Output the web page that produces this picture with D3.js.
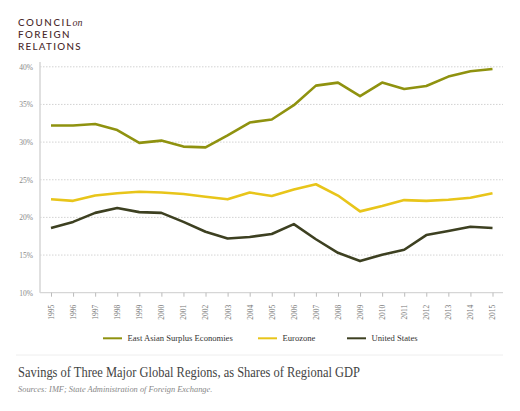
<!DOCTYPE html>
<html>
<head>
<meta charset="utf-8">
<script src="https://cdn.jsdelivr.net/npm/d3@7"></script>
<style>
  html, body { margin: 0; padding: 0; background: #fff; }
  svg { display: block; }
</style>
</head>
<body>
<svg id="chart" width="520" height="411"></svg>
<script>
const years = [1995,1996,1997,1998,1999,2000,2001,2002,2003,2004,2005,2006,2007,2008,2009,2010,2011,2012,2013,2014,2015];
const eastAsia = [32.2,32.2,32.4,31.6,29.9,30.2,29.4,29.3,30.9,32.6,33.0,34.9,37.5,37.9,36.1,37.9,37.05,37.45,38.7,39.4,39.7];
const eurozone = [22.4,22.2,22.9,23.2,23.4,23.3,23.1,22.75,22.4,23.3,22.85,23.7,24.4,22.9,20.8,21.5,22.3,22.2,22.35,22.6,23.2];
const unitedStates = [18.6,19.4,20.6,21.25,20.7,20.6,19.4,18.1,17.2,17.4,17.8,19.1,17.1,15.3,14.2,15.05,15.7,17.65,18.2,18.75,18.6];
const seriesNames = ["East Asian Surplus Economies","Eurozone","United States"];
const seriesColors = ["#8f920f","#e8c51a","#3d4021"];
const yTicks = [10,15,20,25,30,35,40];
const title = "Savings of Three Major Global Regions, as Shares of Regional GDP";
const source = "Sources: IMF; State Administration of Foreign Exchange.";

const svg = d3.select("#chart");
const serif = "'Liberation Serif','DejaVu Serif',serif";

// Logo (three lines)
const logo = svg.append("g").attr("fill","#4a2a2c").attr("font-family","Lato, 'Open Sans', sans-serif")
  .attr("font-size",9.8).attr("font-weight",500);
const l1 = logo.append("text").attr("x",18).attr("y",26.4).attr("letter-spacing",1.6);
l1.append("tspan").text("COUNCIL");
l1.append("tspan").attr("font-family",serif).attr("font-style","italic").attr("font-size",10).attr("letter-spacing",0).attr("dx",0).text("on");
logo.append("text").attr("x",18).attr("y",38.2).attr("letter-spacing",1.5).text("FOREIGN");
logo.append("text").attr("x",18).attr("y",50).attr("letter-spacing",1.3).text("RELATIONS");

const x = d3.scalePoint().domain(years).range([51, 492.5]);
const y = d3.scaleLinear().domain([10, 40]).range([292.7, 66.8]);

// gridlines
svg.append("g").selectAll("line").data(yTicks.filter(t => t > 10)).join("line")
  .attr("x1", 40).attr("x2", 503)
  .attr("y1", d => y(d)).attr("y2", d => y(d))
  .attr("stroke", "#c8c8c8").attr("stroke-width", 0.8).attr("stroke-dasharray", "1.5,1.5");

// y axis
const yAxis = svg.append("g").attr("transform","translate(40,0)")
  .call(d3.axisLeft(y).tickValues(yTicks).tickSize(0).tickPadding(7).tickFormat(d => d + "%"));
yAxis.select(".domain").attr("stroke","#d6d6d6").attr("stroke-width",1.5).attr("d","M0,62V292.7");
yAxis.selectAll("text").attr("font-family",serif).attr("font-size",7.5).attr("fill","#888");

// x axis
const xAxis = svg.append("g").attr("transform","translate(0,292.7)")
  .call(d3.axisBottom(x).tickSize(4).tickSizeOuter(0));
xAxis.select(".domain").attr("stroke","#d6d6d6").attr("stroke-width",1.2).attr("d","M40,0H503");
xAxis.selectAll(".tick line").attr("stroke","#bbb");
xAxis.selectAll("text")
  .attr("font-family",serif).attr("font-size",7.5).attr("fill","#777")
  .attr("text-anchor","end").attr("transform","rotate(-90)")
  .attr("x",-12).attr("y",0).attr("dy","0.32em");

// lines
const line = d3.line().x((d,i) => x(years[i])).y(d => y(d));
const allSeries = [eastAsia, eurozone, unitedStates];
svg.append("g").selectAll("path").data(allSeries).join("path")
  .attr("d", line)
  .attr("fill","none")
  .attr("stroke", (d,i) => seriesColors[i])
  .attr("stroke-width", 2.6)
  .attr("stroke-linejoin","round");

// legend
const legendX = [103, 258, 347];
const lg = svg.append("g").selectAll("g").data(seriesNames).join("g")
  .attr("transform", (d,i) => `translate(${legendX[i]},338.3)`);
lg.append("line").attr("x1",0).attr("x2",19).attr("stroke",(d,i)=>seriesColors[i]).attr("stroke-width",2);
lg.append("text").attr("x",24.5).attr("dy","0.32em").attr("font-family",serif).attr("font-size",8.6).attr("fill","#333").text(d => d);

// separator
svg.append("line").attr("x1",16).attr("x2",503).attr("y1",355).attr("y2",355).attr("stroke","#eeeeee").attr("stroke-width",1);

// title + source
svg.append("text").attr("x",18).attr("y",376.5).attr("font-family",serif).attr("font-size",13.8).attr("fill","#444")
  .attr("textLength",342).attr("lengthAdjust","spacingAndGlyphs").text(title);
svg.append("text").attr("x",18).attr("y",391.5).attr("font-family",serif).attr("font-style","italic").attr("font-size",8.4).attr("fill","#888").text(source);
</script>
</body>
</html>
